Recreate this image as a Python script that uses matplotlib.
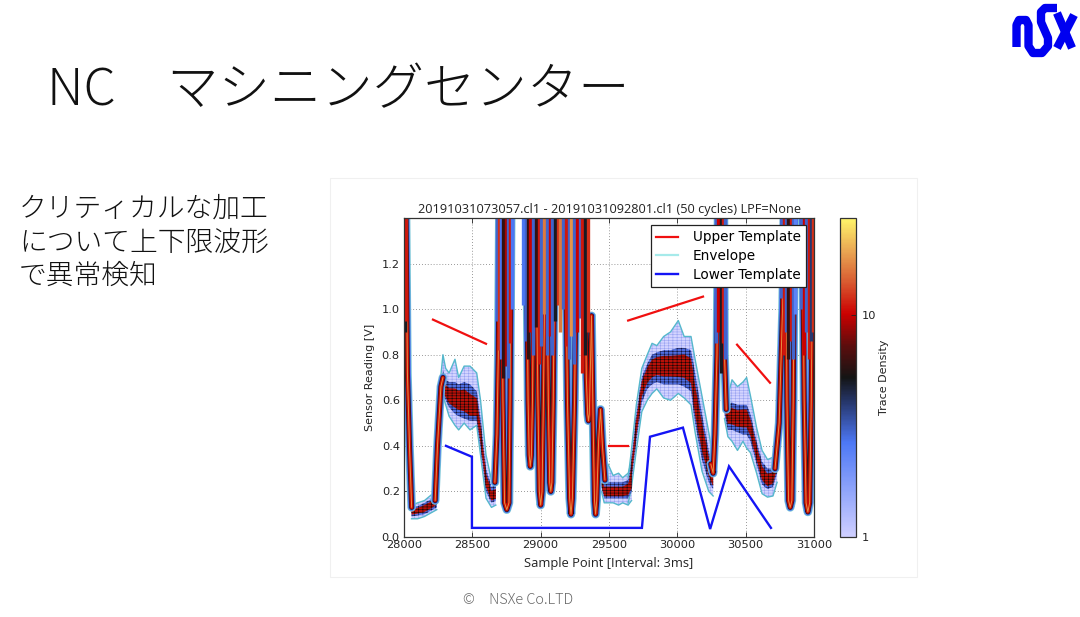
"""NC machining center slide: sensor trace density with upper/lower templates."""

import matplotlib
matplotlib.use("Agg")
import matplotlib.pyplot as plt
from matplotlib.cm import ScalarMappable
from matplotlib.colors import LinearSegmentedColormap, LogNorm

plt.rcParams["font.family"] = ["DejaVu Sans"]
plt.rcParams["hatch.linewidth"] = 0.4

W, H = 1080, 617
JP = ["Noto Sans CJK JP", "DejaVu Sans"]

SLIDE_TITLE = "NC\u3000マシニングセンター"
SLIDE_BODY = ["クリティカルな加工", "について上下限波形", "で異常検知"]
FOOTER = "©\u3000NSXe Co.LTD"
CHART_TITLE = "20191031073057.cl1 - 20191031092801.cl1 (50 cycles) LPF=None"

X_TICKS = [28000, 28500, 29000, 29500, 30000, 30500, 31000]
Y_TICKS = [0.0, 0.2, 0.4, 0.6, 0.8, 1.0, 1.2]

# template segments
upper_segments = [
    ([28212, 28600], [0.954, 0.848]),
    ([29500, 29640], [0.40, 0.40]),
    ([29640, 30188], [0.95, 1.055]),
    ([30437, 30678], [0.844, 0.677]),
]
lower_x = [28307, 28497, 28497, 29741, 29800, 30041, 30240, 30378, 30685]
lower_y = [0.40, 0.352, 0.04, 0.04, 0.44, 0.48, 0.035, 0.31, 0.04]

# fast swings of the traces (clipped by the axes above 1.4)
swing_paths = [
    ([28012, 28025, 28040, 28056], [1.6, 0.72, 0.40, 0.13]),
    ([28228, 28245, 28270, 28285], [0.16, 0.40, 0.66, 0.70]),
    ([28665, 28680, 28690, 28700], [0.24, 0.45, 0.80, 1.6]),
    ([28712, 28724, 28736, 28752, 28768, 28776, 28786], [1.6, 0.60, 0.15, 0.12, 0.15, 0.60, 1.6]),
    ([28892, 28908, 28916, 28924, 28932, 28940, 28956], [1.6, 0.60, 0.36, 0.31, 0.36, 0.60, 1.6]),
    ([28960, 28980, 28990, 29000, 29010, 29020, 29040], [1.6, 0.60, 0.20, 0.14, 0.20, 0.60, 1.6]),
    ([29040, 29056, 29066, 29074, 29082, 29092, 29108], [1.6, 0.60, 0.24, 0.20, 0.24, 0.60, 1.6]),
    ([29176, 29196, 29212, 29222, 29232, 29248, 29268], [1.6, 0.60, 0.17, 0.10, 0.17, 0.60, 1.6]),
    ([29318, 29334, 29344, 29350, 29356, 29366, 29372], [1.6, 0.70, 0.54, 0.51, 0.54, 0.80, 0.97]),
    ([29372, 29384, 29394, 29402, 29410, 29424, 29438, 29452, 29470],
     [0.97, 0.50, 0.16, 0.10, 0.16, 0.42, 0.56, 0.40, 0.25]),
    ([30245, 30262, 30275, 30290, 30300], [0.32, 0.28, 0.45, 0.80, 1.6]),
    ([30340, 30345, 30358], [1.6, 0.80, 0.56]),
    ([30715, 30745, 30770, 30785], [0.30, 0.50, 1.00, 1.6]),
    ([30790, 30802, 30814, 30826, 30838, 30848, 30860], [1.6, 0.60, 0.16, 0.13, 0.16, 0.60, 1.6]),
    ([30912, 30928, 30942, 30955, 30968, 30980, 30994], [1.6, 0.60, 0.15, 0.11, 0.15, 0.60, 1.6]),
]

# solid part of the bundles at the top of the plot: position, lowest reach, density
stripe_x = [28005, 28018,
            28680, 28695, 28712, 28728, 28745, 28762, 28778, 28792,
            28872, 28890, 28908, 28925, 28945, 28965, 28985, 29005, 29025, 29045, 29065,
            29085, 29105, 29125, 29145, 29165, 29185, 29205, 29225, 29245, 29265,
            29285, 29305, 29325, 29345,
            30285, 30300, 30318, 30335, 30352,
            30760, 30778, 30795, 30812, 30830, 30848, 30862, 30905, 30925, 30943, 30960, 30978, 30993]
stripe_bottom = [0.9, 0.95,
                 0.95, 0.82, 0.78, 0.7, 0.75, 0.7, 0.85, 1.0,
                 1.02, 0.86, 0.78, 0.9, 0.8, 0.92, 0.76, 0.84, 0.98, 0.8, 0.88,
                 0.8, 0.95, 1.02, 0.9, 1.0, 0.84, 0.78, 0.88, 0.76, 0.9,
                 0.96, 0.72, 0.8, 0.9,
                 0.85, 0.9, 0.72, 0.85, 0.78,
                 1.05, 0.8, 0.9, 0.78, 0.86, 0.78, 0.98, 1.0, 0.8, 0.9, 0.78, 0.86, 0.9]
stripe_density = [5, 11,
                  3, 12, 2.7, 6, 9, 3, 11, 2.7,
                  2.7, 3, 6, 10, 3, 6, 11, 3, 16, 3, 10,
                  3, 5, 12, 16, 3, 11, 3, 18, 3, 10,
                  3, 11, 5, 12,
                  3, 10, 5, 11, 3,
                  3, 11, 3, 6, 11, 3, 2.4, 3, 10, 3, 11, 4, 12]

# slow sections of the traces: envelope, dense core and centre of each section
band1_x = [28055, 28100, 28150, 28210, 28240]
band1_hi = [0.14, 0.15, 0.16, 0.19, 0.21]
band1_lo = [0.08, 0.08, 0.09, 0.11, 0.12]
band1_chi = [0.13, 0.135, 0.15, 0.17, 0.18]
band1_clo = [0.09, 0.095, 0.10, 0.12, 0.13]
band1_mid = [0.11, 0.115, 0.125, 0.145, 0.16]

band2_x = [28265, 28285, 28305, 28330, 28373, 28400, 28440, 28483, 28532, 28560, 28600, 28640, 28672]
band2_hi = [0.68, 0.80, 0.74, 0.72, 0.78, 0.70, 0.75, 0.75, 0.72, 0.60, 0.36, 0.25, 0.27]
band2_lo = [0.56, 0.62, 0.58, 0.53, 0.49, 0.47, 0.50, 0.47, 0.49, 0.36, 0.17, 0.13, 0.14]
band2_chi = [0.66, 0.73, 0.69, 0.68, 0.68, 0.67, 0.68, 0.67, 0.64, 0.52, 0.30, 0.22, 0.23]
band2_clo = [0.60, 0.62, 0.60, 0.57, 0.54, 0.53, 0.52, 0.51, 0.51, 0.39, 0.20, 0.15, 0.16]
band2_mid = [0.63, 0.67, 0.64, 0.62, 0.61, 0.60, 0.60, 0.58, 0.57, 0.45, 0.25, 0.18, 0.19]

band3_x = [29445, 29465, 29493, 29530, 29570, 29600, 29640, 29665]
band3_hi = [0.30, 0.25, 0.32, 0.27, 0.28, 0.26, 0.28, 0.33]
band3_lo = [0.20, 0.15, 0.15, 0.15, 0.14, 0.15, 0.14, 0.16]
band3_chi = [0.27, 0.24, 0.24, 0.24, 0.24, 0.24, 0.25, 0.29]
band3_clo = [0.22, 0.17, 0.17, 0.17, 0.17, 0.17, 0.17, 0.20]
band3_mid = [0.24, 0.20, 0.20, 0.20, 0.20, 0.20, 0.21, 0.24]

band4_x = [29640, 29660, 29700, 29740, 29780, 29815, 29850, 29900, 29950, 30007, 30050, 30100, 30130, 30180, 30230, 30262]
band4_hi = [0.26, 0.36, 0.58, 0.74, 0.80, 0.85, 0.84, 0.88, 0.90, 0.95, 0.88, 0.88, 0.78, 0.62, 0.46, 0.34]
band4_lo = [0.15, 0.20, 0.38, 0.55, 0.60, 0.63, 0.65, 0.61, 0.60, 0.63, 0.61, 0.58, 0.46, 0.29, 0.20, 0.18]
band4_chi = [0.24, 0.32, 0.54, 0.70, 0.76, 0.80, 0.81, 0.82, 0.82, 0.83, 0.83, 0.82, 0.72, 0.54, 0.38, 0.30]
band4_clo = [0.17, 0.22, 0.42, 0.59, 0.65, 0.67, 0.68, 0.67, 0.67, 0.67, 0.66, 0.64, 0.50, 0.34, 0.24, 0.21]
band4_mid = [0.20, 0.27, 0.48, 0.65, 0.71, 0.74, 0.75, 0.75, 0.75, 0.75, 0.75, 0.73, 0.60, 0.44, 0.31, 0.25]

band5_x = [30345, 30370, 30400, 30440, 30480, 30507, 30535, 30580, 30620, 30660, 30700, 30730]
band5_hi = [0.70, 0.62, 0.69, 0.66, 0.68, 0.70, 0.62, 0.48, 0.38, 0.34, 0.35, 0.45]
band5_lo = [0.52, 0.44, 0.42, 0.38, 0.42, 0.39, 0.37, 0.28, 0.19, 0.175, 0.18, 0.24]
band5_chi = [0.62, 0.58, 0.59, 0.58, 0.58, 0.58, 0.54, 0.42, 0.33, 0.30, 0.30, 0.38]
band5_clo = [0.54, 0.47, 0.47, 0.46, 0.45, 0.45, 0.42, 0.32, 0.23, 0.21, 0.22, 0.28]
band5_mid = [0.58, 0.53, 0.53, 0.52, 0.52, 0.52, 0.48, 0.37, 0.28, 0.25, 0.26, 0.33]

bands = [
    (band1_x, band1_hi, band1_lo, band1_chi, band1_clo, band1_mid),
    (band2_x, band2_hi, band2_lo, band2_chi, band2_clo, band2_mid),
    (band3_x, band3_hi, band3_lo, band3_chi, band3_clo, band3_mid),
    (band4_x, band4_hi, band4_lo, band4_chi, band4_clo, band4_mid),
    (band5_x, band5_hi, band5_lo, band5_chi, band5_clo, band5_mid),
]

# blue SX logo strokes, pixel coordinates of the slide
logo_strokes = [
    ([1016.5, 1016.5, 1019, 1026, 1028.5, 1028.5, 1033, 1042, 1048, 1048, 1041, 1041, 1045, 1057],
     [47, 25, 20, 20, 25, 46, 53, 53, 46, 38, 22, 12, 8, 8]),
    ([1057, 1072], [13, 48]),
    ([1074, 1057], [15, 48]),
]

density_cmap = LinearSegmentedColormap.from_list("trace_density", [
    (0.0, "#cfcfff"), (0.295, "#4d78f5"), (0.42, "#27386e"), (0.5, "#141414"),
    (0.6, "#5c0d0d"), (0.70, "#cc0000"), (0.80, "#d85a30"), (0.89, "#e8a050"), (1.0, "#fff56a"),
])
density_norm = LogNorm(vmin=1, vmax=27.3)

BRICK = "-" * 6 + "|" * 4


def px_axes(fig, left, top, right, bottom):
    return fig.add_axes([left / W, 1 - bottom / H, (right - left) / W, (bottom - top) / H])


def density_color(value):
    return density_cmap(density_norm(value))


def draw_slide(fig):
    bg = fig.add_axes([0, 0, 1, 1])
    bg.set_xlim(0, W)
    bg.set_ylim(H, 0)
    bg.axis("off")
    bg.add_patch(plt.Rectangle((329.5, 178), 587, 399, fc="white", ec="#f0f0f0", lw=0.8))
    bg.text(47, 91, SLIDE_TITLE, family=JP, fontsize=37, weight="light", va="center", color="#111111")
    for y, line in zip([209, 243, 276], SLIDE_BODY):
        bg.text(19, y, line, family=JP, fontsize=20, weight="light", va="center", color="#111111")
    bg.text(463, 600, FOOTER, family=JP, fontsize=10.4, weight="light", va="center", color="#666666")
    for xs, ys in logo_strokes:
        bg.plot(xs, ys, color="#0000f0", lw=6, solid_capstyle="butt", solid_joinstyle="round")


def draw_traces(ax):
    # slow sections
    for xs, hi, lo, chi, clo, mid in bands:
        ax.fill_between(xs, lo, hi, facecolor="#d4d4ff", edgecolor="#9aa4f2", hatch=BRICK, lw=0, zorder=2)
        ax.plot(xs, hi, color="#55b8cc", lw=1.0, zorder=2.4)
        ax.plot(xs, lo, color="#55b8cc", lw=1.0, zorder=2.4)
        ax.fill_between(xs, clo, chi, facecolor="#4f6ee0", edgecolor="#14143a", hatch=BRICK, lw=0, zorder=2.5)
        half = [0.3 * (a - b) for a, b in zip(chi, clo)]
        hot_hi = [m + h for m, h in zip(mid, half)]
        hot_lo = [m - h for m, h in zip(mid, half)]
        ax.fill_between(xs, hot_lo, hot_hi, facecolor="#b81008", edgecolor="#160606", hatch=BRICK, lw=0, zorder=2.6)

    # fast swings, one layer per density level
    layers = [("#74c3d6", 6.2), ("#5074ec", 5.0), ("#181820", 3.6), ("#c80c04", 2.6), ("#e89040", 0.7)]
    for xs, ys in swing_paths:
        for i, (color, width) in enumerate(layers):
            ax.plot(xs, ys, color=color, lw=width, solid_joinstyle="round", solid_capstyle="round",
                    zorder=3.2 + i * 0.1)

    # bundles at the top, over the swings
    for x, bottom, dens in zip(stripe_x, stripe_bottom, stripe_density):
        ax.vlines(x, bottom, 1.6, color=density_color(dens), lw=2.4, zorder=3.9)


def draw_chart(fig):
    ax = px_axes(fig, 404, 218, 814, 537)
    draw_traces(ax)

    ax.grid(True, color="#777777", ls=(0, (1, 2.5)), lw=0.6)
    ax.set_axisbelow(True)

    for i, (xs, ys) in enumerate(upper_segments):
        ax.plot(xs, ys, color="#f01010", lw=1.6, zorder=6, label="Upper Template" if i == 0 else None)
    ax.plot([], [], color="#a6eaea", lw=1.6, label="Envelope")
    ax.plot(lower_x, lower_y, color="#1414f5", lw=1.7, zorder=6, solid_joinstyle="miter", label="Lower Template")

    ax.set_xlim(28000, 31000)
    ax.set_ylim(0, 1.4)
    ax.set_xticks(X_TICKS)
    ax.set_yticks(Y_TICKS)
    ax.tick_params(direction="in", top=True, right=True, length=3.5, width=0.6, labelsize=8.2, colors="#222222", pad=3)
    ax.tick_params(axis="x", pad=2.5)
    for spine in ax.spines.values():
        spine.set_color("#333333")
        spine.set_linewidth(0.9)
        spine.set_zorder(8)
    ax.set_title(CHART_TITLE, family="Open Sans", fontsize=9.2, pad=3.5, color="#222222")
    ax.set_xlabel("Sample Point [Interval: 3ms]", family="Open Sans", fontsize=9.3, labelpad=5, color="#222222")
    ax.set_ylabel("Sensor Reading [V]", fontsize=8, labelpad=5, color="#222222")

    leg = ax.legend(loc="upper left", bbox_to_anchor=((651 - 404) / 410, 1 - (225 - 218) / 319),
                    fontsize=9.8, fancybox=False, framealpha=1, edgecolor="#222222", borderaxespad=0,
                    handlelength=1.6, labelspacing=0.35, handletextpad=1.05, borderpad=0.4)
    leg.get_frame().set_linewidth(0.9)
    leg.set_zorder(10)

    cax = px_axes(fig, 840, 218, 856, 537)
    cbar = fig.colorbar(ScalarMappable(norm=density_norm, cmap=density_cmap), cax=cax)
    cbar.set_ticks([1, 10], labels=["1", "10"])
    cbar.minorticks_off()
    cbar.ax.tick_params(direction="in", length=3.5, width=0.6, labelsize=8.2, colors="#222222", pad=4)
    cbar.outline.set_edgecolor("#333333")
    cbar.outline.set_linewidth(0.9)
    cbar.set_label("Trace Density", fontsize=8, color="#222222", labelpad=2)


fig = plt.figure(figsize=(W / 100, H / 100), dpi=100, facecolor="white")
draw_slide(fig)
draw_chart(fig)
fig.savefig("out.png", dpi=100)
